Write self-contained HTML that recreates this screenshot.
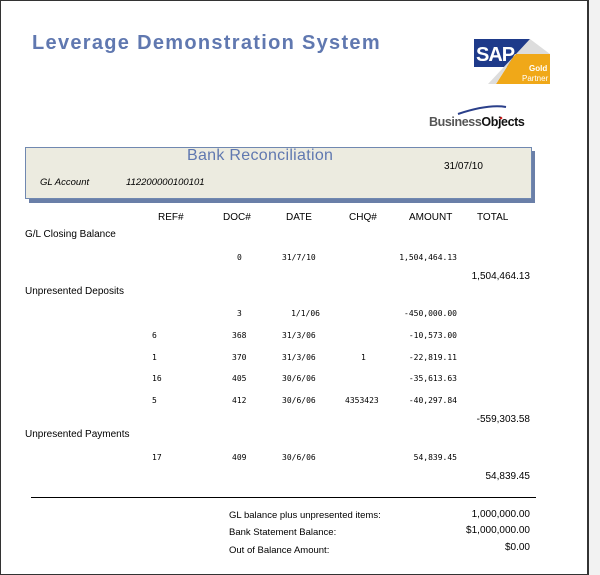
<!DOCTYPE html>
<html><head><style>
body{margin:0;width:600px;height:575px;background:#fff;position:relative;overflow:hidden;font-family:"Liberation Sans",sans-serif;}
.a{position:absolute;white-space:nowrap;}
.s{font-size:10px;color:#000;line-height:12px;}
.d{font-size:8px;color:#000;font-family:"DejaVu Sans Mono","Liberation Mono",monospace;line-height:10px;}
.r{text-align:right;}
</style></head><body>
<div class="a" style="left:0;top:0;width:586px;height:573px;border:1px solid #333;border-right:2px solid #333;"></div>
<div class="a" style="left:589px;top:0;width:11px;height:575px;background:#f2f2f2"></div>
<div class="a" style="left:32px;top:32px;font-size:20px;font-weight:bold;color:#6078b0;letter-spacing:1.3px">Leverage Demonstration System</div>
<svg class="a" style="left:474px;top:39px" width="78" height="46">
<polygon points="0,0 56,0 34,28 0,28" fill="#1e3a8a"/>
<text x="2" y="22" font-family="Liberation Sans" font-weight="bold" font-size="20" fill="#fff" letter-spacing="-1">SAP</text>
<polygon points="41,15 76,15 76,45 22,45" fill="#f0a818"/>
<polygon points="56,0 76,15 41,15 22,45 14,45" fill="#ddd"/>
<text x="55" y="32" font-family="Liberation Sans" font-weight="bold" font-size="8" fill="#fff">Gold</text>
<text x="48" y="42" font-family="Liberation Sans" font-size="8" fill="#fff">Partner</text>
</svg>
<svg class="a" style="left:428px;top:102px" width="110" height="28">
<path d="M30,12 Q60,2 78,5" stroke="#2a3f8a" stroke-width="2" fill="none"/>
<circle cx="73" cy="16" r="1.3" fill="#d22"/>
<text x="1" y="24" font-family="Liberation Sans" font-weight="bold" font-size="12.5" fill="#555" letter-spacing="-0.4">Business<tspan fill="#111">Objects</tspan></text>
</svg>
<div class="a" style="left:29px;top:151px;width:506px;height:52px;background:#6a7fa8"></div>
<div class="a" style="left:25px;top:147px;width:505px;height:50px;background:#ecebe0;border:1px solid #7088b0"></div>
<div class="a" style="left:187px;top:147px;font-size:16px;color:#6078b0;letter-spacing:0.3px">Bank Reconciliation</div>
<div class="a s" style="left:444px;top:161px">31/07/10</div>
<div class="a s" style="left:40px;top:177px;font-style:italic;font-size:9.5px">GL Account</div>
<div class="a s" style="left:126px;top:177px;font-style:italic;font-size:9.5px">112200000100101</div>
<div class="a s" style="left:158px;top:212px">REF#</div>
<div class="a s" style="left:223px;top:212px">DOC#</div>
<div class="a s" style="left:286px;top:212px">DATE</div>
<div class="a s" style="left:349px;top:212px">CHQ#</div>
<div class="a s" style="left:409px;top:212px">AMOUNT</div>
<div class="a s" style="left:477px;top:212px">TOTAL</div>
<div class="a s" style="left:25px;top:229px">G/L Closing Balance</div>
<div class="a s" style="left:25px;top:286px">Unpresented Deposits</div>
<div class="a s" style="left:25px;top:429px">Unpresented Payments</div>
<div class="a d" style="left:237px;top:253px">0</div><div class="a d" style="left:282px;top:253px">31/7/10</div><div class="a d r" style="left:380px;width:77px;top:253px">1,504,464.13</div>
<div class="a s r" style="left:450px;width:80px;top:271px">1,504,464.13</div>
<div class="a d" style="left:237px;top:309px">3</div><div class="a d r" style="left:270px;width:50px;top:309px">1/1/06</div><div class="a d r" style="left:380px;width:77px;top:309px">-450,000.00</div>
<div class="a d" style="left:152px;top:331px">6</div><div class="a d" style="left:232px;top:331px">368</div><div class="a d" style="left:282px;top:331px">31/3/06</div><div class="a d r" style="left:380px;width:77px;top:331px">-10,573.00</div>
<div class="a d" style="left:152px;top:353px">1</div><div class="a d" style="left:232px;top:353px">370</div><div class="a d" style="left:282px;top:353px">31/3/06</div><div class="a d" style="left:361px;top:353px">1</div><div class="a d r" style="left:380px;width:77px;top:353px">-22,819.11</div>
<div class="a d" style="left:152px;top:374px">16</div><div class="a d" style="left:232px;top:374px">405</div><div class="a d" style="left:282px;top:374px">30/6/06</div><div class="a d r" style="left:380px;width:77px;top:374px">-35,613.63</div>
<div class="a d" style="left:152px;top:396px">5</div><div class="a d" style="left:232px;top:396px">412</div><div class="a d" style="left:282px;top:396px">30/6/06</div><div class="a d" style="left:345px;top:396px">4353423</div><div class="a d r" style="left:380px;width:77px;top:396px">-40,297.84</div>
<div class="a s r" style="left:450px;width:80px;top:414px">-559,303.58</div>
<div class="a d" style="left:152px;top:453px">17</div><div class="a d" style="left:232px;top:453px">409</div><div class="a d" style="left:282px;top:453px">30/6/06</div><div class="a d r" style="left:380px;width:77px;top:453px">54,839.45</div>
<div class="a s r" style="left:450px;width:80px;top:471px">54,839.45</div>
<div class="a" style="left:31px;top:497px;width:505px;height:1px;background:#000"></div>
<div class="a s" style="left:229px;top:510px;font-size:9.5px">GL balance plus unpresented items:</div>
<div class="a s r" style="left:450px;width:80px;top:509px">1,000,000.00</div>
<div class="a s" style="left:229px;top:527px;font-size:9.5px">Bank Statement Balance:</div>
<div class="a s r" style="left:450px;width:80px;top:525px">$1,000,000.00</div>
<div class="a s" style="left:229px;top:545px;font-size:9.5px">Out of Balance Amount:</div>
<div class="a s r" style="left:450px;width:80px;top:542px">$0.00</div>
</body></html>
